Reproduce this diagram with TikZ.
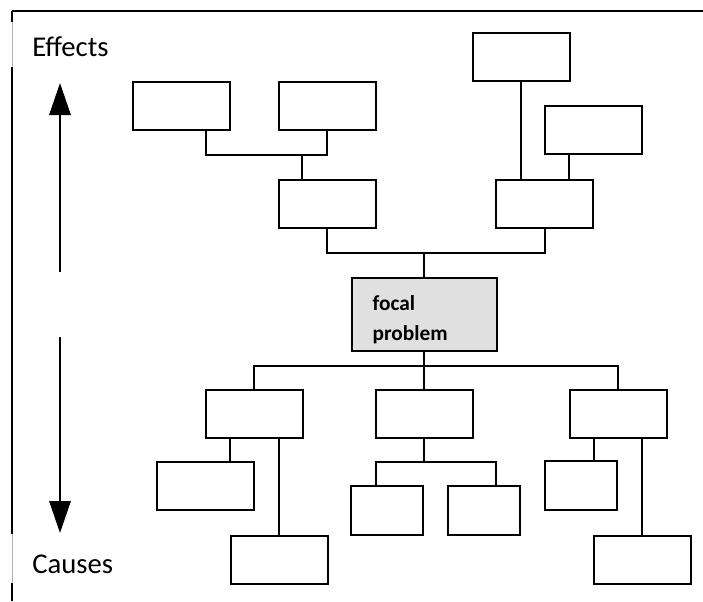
\documentclass[tikz,border=0pt]{standalone}
\usepackage{fontspec}
\setmainfont{Carlito}
\usetikzlibrary{arrows.meta,calc}
\definecolor{focalgray}{RGB}{224,224,224}

\tikzset{
  box/.style={draw, line width=1.5pt, minimum width=72.75pt, minimum height=36pt, inner sep=0pt},
  smallbox/.style={box, minimum width=54pt, minimum height=36.75pt},
  focalbox/.style={draw, line width=1.5pt, fill=focalgray, minimum width=108.75pt, minimum height=54.75pt,
    text width=77pt, inner xsep=15.75pt, align=left, font=\fontsize{16}{23}\selectfont\bfseries},
  link/.style={line width=1.5pt},
  bigarrow/.style={line width=1.6pt, -{Triangle[width=16pt,length=24pt]}},
  sidelabel/.style={anchor=base west, inner sep=0pt, font=\fontsize{21.5}{25}\selectfont}
}

\begin{document}
\begin{tikzpicture}[x=0.75pt, y=-0.75pt]
        \useasboundingbox (0,0) rectangle (703,601);

        % Cadre
        \draw[line width=1.5pt] (12,11) -- (703,11);
        \draw[line width=1.5pt] (12,11) -- (12,22);
        \draw[gray!60, thin] (12,22) -- (12,67);
        \draw[line width=1.5pt] (12,67) -- (12,534);
        \draw[gray!60, thin] (12,534) -- (12,583);
        \draw[line width=1.5pt] (12,583) -- (12,601);

        % Effets / causes
        \node[sidelabel] (effects) at (32,56) {Effects};
        \node[sidelabel] (causes) at (32,573) {Causes};
        \coordinate (upS) at (60,272);
        \coordinate (upT) at (60,83);
        \coordinate (dnS) at (60,337);
        \coordinate (dnT) at (60,533);
        \draw[bigarrow] (upS) -- (upT);
        \draw[bigarrow] (dnS) -- (dnT);

        % Effets (haut)
        \node[box] (a) at (181.5,106) {};
        \node[box] (b) at (327,106) {};
        \node[box] (c) at (327,203.5) {};
        \node[box] (d) at (521,56.5) {};
        \node[box] (e) at (593.5,130) {};
        \node[box] (f) at (544.5,203.5) {};

        % Probleme central
        \node[focalbox] (focal) at (424,314.5) {\rule{0pt}{19pt}focal\\problem};

        % Causes (bas)
        \node[box] (g) at (254,414) {};
        \node[box] (h) at (205.5,486) {};
        \node[box] (i) at (279,560) {};
        \node[box] (j) at (424,414) {};
        \node[smallbox] (k) at (387,510.5) {};
        \node[smallbox] (l) at (484,510.5) {};
        \node[box] (m) at (618,414) {};
        \node[smallbox] (n) at (581,485.5) {};
        \node[box] (o) at (642,560) {};

        % Liaisons du haut
        \coordinate (jab) at (302,155);
        \coordinate (a1) at ($(a.south)+(24.5,0)$);
        \draw[link] (a1) |- (jab) -| (b);
        \draw[link] (jab) -- (jab |- c.north);
        \draw[link] (d) -- (d |- f.north);
        \coordinate (e1) at ($(e.south)+(-24.5,0)$);
        \draw[link] (e1) -- (e1 |- f.north);
        \coordinate (jcf) at (424,253);
        \draw[link] (c) |- (jcf) -| (f);
        \draw[link] (jcf) -- (focal);

        % Liaisons du bas
        \coordinate (jlow) at (424,366);
        \draw[link] (focal) -- (jlow);
        \draw[link] (g) |- (jlow) -| (m);
        \draw[link] (jlow) -- (j);
        \coordinate (g1) at ($(g.south)+(-24,0)$);
        \draw[link] (g1) -- (g1 |- h.north);
        \draw[link] (i) -- (i |- g.south);
        \coordinate (jkl) at (424,462);
        \coordinate (k1) at ($(k.north)+(-11,0)$);
        \coordinate (l1) at ($(l.north)+(12,0)$);
        \draw[link] (j) -- (jkl);
        \draw[link] (k1) |- (jkl) -| (l1);
        \coordinate (m1) at ($(m.south)+(-24,0)$);
        \draw[link] (m1) -- (m1 |- n.north);
        \draw[link] (o) -- (o |- m.south);

    \end{tikzpicture}
\end{document}
